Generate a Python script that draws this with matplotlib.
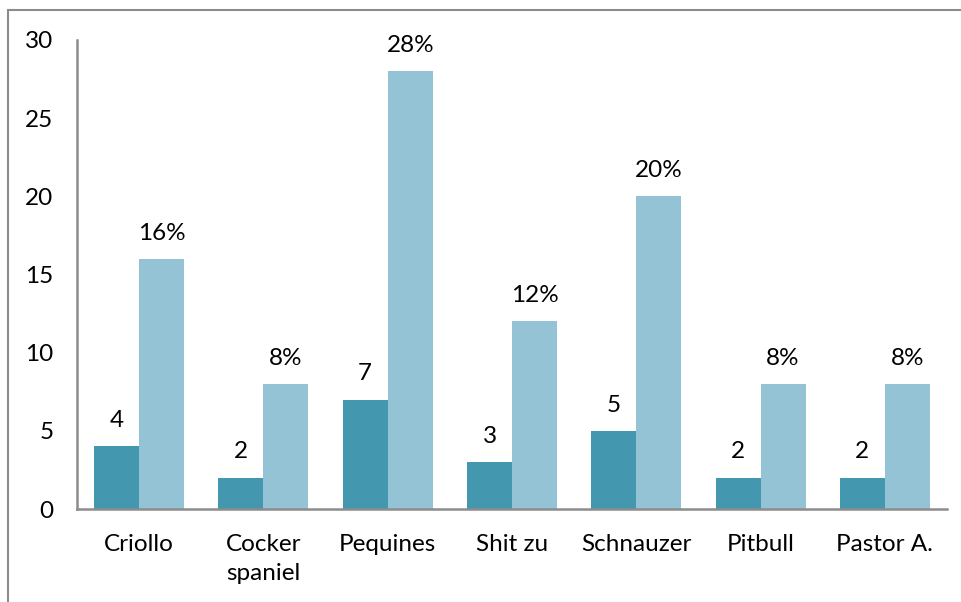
"""Bar chart: dog breeds, count and percentage."""

import matplotlib.pyplot as plt
import numpy as np
from matplotlib.patches import Rectangle

breeds = ["Criollo", "Cocker\nspaniel", "Pequines", "Shit zu", "Schnauzer", "Pitbull", "Pastor A."]
counts = [4, 2, 7, 3, 5, 2, 2]
percents = [16, 8, 28, 12, 20, 8, 8]

dark = "#4397AF"
light = "#93C3D4"
grey = "#8C8C8C"

plt.rcParams["font.family"] = ["Lato", "DejaVu Sans"]

fig = plt.figure(figsize=(9.62, 6.02), dpi=100)
ax = fig.add_axes([77 / 962, 1 - 509 / 602, 870 / 962, 469 / 602])

x = np.arange(len(breeds))
w = 0.362
ax.bar(x - w / 2, counts, w, color=dark, zorder=2)
ax.bar(x + w / 2, percents, w, color=light, zorder=2)

for xi, c, p in zip(x, counts, percents):
    ax.annotate(str(c), (xi - w / 2, c), xytext=(0, 11), textcoords="offset points",
                ha="center", va="bottom", fontsize=17.5)
    ax.annotate(f"{p}%", (xi + w / 2, p), xytext=(0, 11), textcoords="offset points",
                ha="center", va="bottom", fontsize=17.5)

ax.set_xlim(-0.5, len(breeds) - 0.5)
ax.set_ylim(0, 30)
ax.set_yticks(range(0, 31, 5))
ax.set_xticks(x)
ax.set_xticklabels(breeds, fontsize=17.5, linespacing=1.5)
ax.tick_params(axis="y", length=0, pad=17, labelsize=17.5)
ax.tick_params(axis="x", length=0, pad=18)

for side in ["top", "right"]:
    ax.spines[side].set_visible(False)
for side in ["left", "bottom"]:
    ax.spines[side].set_color(grey)
    ax.spines[side].set_linewidth(1.8)

# outer chart frame, cut by the picture edges
fig.patches.append(Rectangle((8 / 962, -0.1), 1.2, 1 - 10 / 602 + 0.1, transform=fig.transFigure,
                             fill=False, edgecolor=grey, linewidth=1.5))

fig.savefig("out.png", dpi=100)
